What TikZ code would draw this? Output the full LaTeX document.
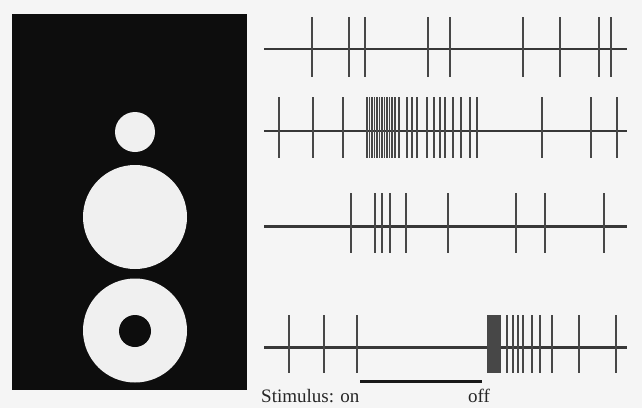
\documentclass[tikz,border=0pt]{standalone}
\usepackage{fontspec}
\setmainfont{Liberation Serif}
\begin{document}
\begin{tikzpicture}[x=1pt,y=-1pt,
  axisline/.style={line width=2.6pt,draw=black!78},
  spike/.style={line width=1.5pt,draw=black!72},
  disc/.style={fill=black!6},
  lbl/.style={font=\fontsize{19}{19}\selectfont,inner sep=0pt,anchor=base west,text=black!85}]
\useasboundingbox (0,0) rectangle (642,408);
\fill[black!4] (0,0) rectangle (642,408);
% left panel
\fill[black!95] (12,14) rectangle (247,390);
\fill[disc] (135,132) circle (20);
\fill[disc] (135,217) circle (52);
\fill[disc] (135,330.5) circle (52);
\fill[black!95] (135,331) circle (16);
% row 1
\draw[axisline] (264,49) -- (627,49);
\foreach \x in {312,349,365,428,450,523,560,599,611}
  \draw[spike] (\x,17) -- (\x,77);
% row 2
\draw[axisline] (264,131) -- (627,131);
\foreach \x in {279,313,343,367,369.5,372,374.5,377,379.5,382,384.5,387,389.5,392,395,399,407,412,417,427,434,440,445,453,461,470,477,542,591,617}
  \draw[spike] (\x,97) -- (\x,158);
% row 3
\draw[axisline] (264,226.5) -- (627,226.5);
\foreach \x in {351,375,382,390,406,448,516,545,604}
  \draw[spike] (\x,193) -- (\x,253);
% row 4
\draw[axisline] (264,347.5) -- (627,347.5);
\foreach \x in {289,324,357,488,490,492,494,496,498,500,507,513,518,523,532,540,552,579,616}
  \draw[spike] (\x,315) -- (\x,373);
% stimulus bar
\coordinate (on) at (360,381);
\coordinate (off) at (482,381);
\draw[line width=3pt,black!90] (on) -- (off);
\node[lbl] (stim) at (261,402) {Stimulus: on};
\node[lbl] (offl) at (468,402) {off};
\end{tikzpicture}
\end{document}
